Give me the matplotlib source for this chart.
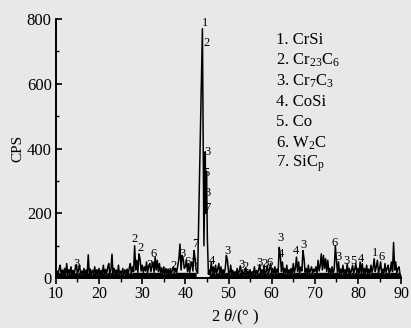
import numpy as np
import matplotlib
matplotlib.use("Agg")
import matplotlib.pyplot as plt

plt.rcParams['font.family'] = ['Liberation Serif', 'DejaVu Serif']
plt.rcParams['mathtext.fontset'] = 'custom'
plt.rcParams['mathtext.rm'] = 'Liberation Serif'
plt.rcParams['mathtext.it'] = 'Liberation Serif:italic'

# baseline counts, 0.25 deg steps
seg_10_20 = [5,22,10,28,40,8,25,12,30,6,45,10,26,14,35,8,24,12,30,42,10,28,40,9,22,14,30,6,25,12,72,10,28,8,24,15,35,7,26,12]
seg_20_30 = [30,9,24,14,40,7,27,12,33,45,10,26,74,8,30,15,25,11,40,9,22,13,30,8,26,14,28,10,32,45,12,35,20,100,25,55,18,75,60,22]
seg_30_40 = [40,18,35,22,50,15,38,45,20,36,50,18,65,25,55,20,45,16,32,12,35,10,30,14,28,9,30,12,26,35,14,30,18,40,60,105,25,70,60,30]
seg_40_43 = [35,55,20,45,18,40,50,22,85,60,25]
seg_45_50 = [25,12,50,15,35,10,40,14,28,45,12,35,10,26,14,30,70,55]
seg_50_60 = [20,8,40,12,24,6,20,10,30,9,22,38,11,25,7,20,32,9,22,12,26,8,20,10,35,9,24,13,28,42,10,26,12,40,8,22,40,10,28,45]
seg_60_70 = [15,30,10,35,12,28,18,95,70,20,50,14,30,12,40,10,26,14,30,12,45,16,32,65,20,50,15,34,22,85,60,18,30,12,40,10,26,35,12,28]
seg_70_80 = [20,35,14,55,22,40,75,25,70,30,60,20,55,18,30,12,35,14,28,100,60,16,50,12,28,10,40,14,26,12,45,16,30,10,24,40,12,28,45,14]
seg_80_90 = [30,12,50,16,45,14,30,12,40,15,28,10,40,18,32,60,20,35,55,16,30,50,14,28,12,45,18,30,40,12,26,50,20,110,25,50,14,30,35,12,10]

# main reflection
peak_theta = [42.85, 43.95, 44.3, 44.6, 44.75, 44.9, 45.1, 45.35]
peak_cps = [15, 770, 100, 390, 200, 330, 120, 12]

# phase markers (2theta, cps, label)
mark_theta = [44.6, 44.9, 45.1, 44.9, 45.1, 45.15,
              14.8, 28.3, 29.7, 31.6, 32.7, 37.3, 39.4, 40.5, 41.9, 42.3,
              46.2, 49.7, 52.9, 54.0, 57.2, 58.4, 59.6, 62.1, 62.1, 65.7, 67.3,
              74.7, 75.6, 77.4, 79.0, 80.6, 83.9, 85.5]
mark_cps = [787, 725, 388, 326, 264, 217,
            43, 121, 93, 40, 74, 37, 74, 50, 46, 105,
            53, 84, 40, 34, 46, 43, 46, 124, 74, 84, 102,
            108, 65, 53, 53, 59, 78, 65]
mark_text = ['1', '2', '3', '5', '3', '7',
             '3', '2', '2', '3', '6', '2', '3', '6', '3', '7',
             '4', '3', '3', '2', '3', '2', '6', '3', '4', '4', '3',
             '6', '3', '3', '5', '4', '1', '6']

phases = ['1. CrSi', r'2. Cr$_{23}$C$_6$', r'3. Cr$_7$C$_3$', '4. CoSi', '5. Co',
          r'6. W$_2$C', r'7. SiC$_\mathrm{p}$']

theta_a = 10 + 0.25 * np.arange(len(seg_10_20 + seg_20_30 + seg_30_40 + seg_40_43))
cps_a = seg_10_20 + seg_20_30 + seg_30_40 + seg_40_43
theta_b = 45.5 + 0.25 * np.arange(len(seg_45_50 + seg_50_60 + seg_60_70 + seg_70_80 + seg_80_90))
cps_b = seg_45_50 + seg_50_60 + seg_60_70 + seg_70_80 + seg_80_90

theta = np.concatenate([theta_a, peak_theta, theta_b])
cps = np.concatenate([cps_a, peak_cps, cps_b])

bg = '#e8e8e6'
fig = plt.figure(figsize=(4.11, 3.28), dpi=100, facecolor=bg)
ax = fig.add_axes([0.136, 0.152, 0.840, 0.79], facecolor=bg)

ax.plot(theta, cps, color='black', lw=1.1)
ax.fill_between(theta_a, 0, np.minimum(cps_a, 18), color='black', lw=0)
ax.fill_between(theta_b, 0, np.minimum(cps_b, 18), color='black', lw=0)

for t, c, s in zip(mark_theta, mark_cps, mark_text):
    ax.text(t, c, s, ha='center', va='center', fontsize=9)

for i, s in enumerate(phases):
    ax.text(0.638, 0.919 - i * 0.0795, s, transform=ax.transAxes,
            ha='left', va='center', fontsize=12)

ax.set_xlim(10, 90)
ax.set_ylim(0, 800)
ax.set_xticks(np.arange(10, 91, 10))
ax.set_xticks(np.arange(15, 90, 10), minor=True)
ax.set_yticks(np.arange(0, 801, 200))
ax.set_yticks(np.arange(100, 800, 200), minor=True)
ax.tick_params(axis='x', direction='out', length=4, width=1.2, labelsize=11.5, pad=2)
ax.tick_params(axis='x', which='minor', direction='out', length=3, width=1.0)
ax.tick_params(axis='y', direction='in', length=4, width=1.2, labelsize=12, pad=3)
ax.tick_params(axis='y', which='minor', direction='in', length=2.5, width=1.0)
for side in ['top', 'right']:
    ax.spines[side].set_visible(False)
for side in ['left', 'bottom']:
    ax.spines[side].set_linewidth(1.4)

ax.set_xlabel(r'2 $\theta$/(° )', fontsize=12)
ax.xaxis.set_label_coords(0.52, -0.115)
ax.set_ylabel('CPS', fontsize=11, labelpad=2)

fig.savefig('out.png', dpi=100, facecolor=bg)
